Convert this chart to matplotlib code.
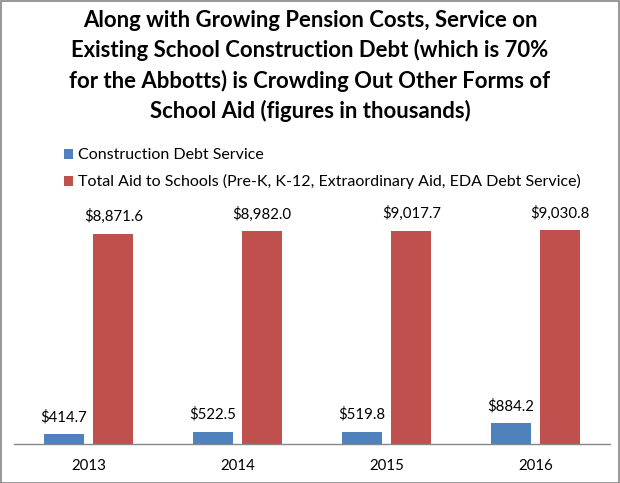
import matplotlib
matplotlib.use("Agg")
import matplotlib.pyplot as plt
from matplotlib.patches import Patch, Rectangle
import numpy as np

years = ["2013", "2014", "2015", "2016"]
debt_service = [414.7, 522.5, 519.8, 884.2]
total_aid = [8871.6, 8982.0, 9017.7, 9030.8]
series_names = ["Construction Debt Service",
                "Total Aid to Schools (Pre-K, K-12, Extraordinary Aid, EDA Debt Service)"]

BLUE = "#4F81BD"
RED = "#C0504D"
FONT = "Lato"

fig = plt.figure(figsize=(6.2, 4.83), dpi=100)
fig.patch.set_facecolor("white")
W, H = 620, 483

ax = fig.add_axes([14 / W, (H - 444) / H, 596 / W, 236.7 / H])
x = np.arange(len(years))
bw = 0.265
off = 0.166
b1 = ax.bar(x - off, debt_service, bw, color=BLUE)
b2 = ax.bar(x + off, total_aid, bw, color=RED)
ax.set_xlim(-0.5, len(years) - 0.5)
ax.set_ylim(0, 10000)

for bars, vals in ((b1, debt_service), (b2, total_aid)):
    for r, v in zip(bars, vals):
        ax.annotate(f"${v:,.1f}", (r.get_x() + r.get_width() / 2, v),
                    xytext=(0, 7), textcoords="offset points", ha="center", va="bottom",
                    fontsize=10.8, family=FONT, color="#000000")

for s in ["top", "right", "left"]:
    ax.spines[s].set_visible(False)
ax.spines["bottom"].set_color("#868686")
ax.spines["bottom"].set_linewidth(1)
ax.set_yticks([])
ax.set_xticks(x)
ax.set_xticklabels(years, fontsize=10.8, family=FONT)
ax.tick_params(axis="x", length=0, pad=11)

title = ("Along with Growing Pension Costs, Service on\n"
         "Existing School Construction Debt (which is 70%\n"
         "for the Abbotts) is Crowding Out Other Forms of\n"
         "School Aid (figures in thousands)")
fig.text(0.5, 1 - 66 / H, title, ha="center", va="center", fontsize=15.9,
         fontweight="bold", family=FONT, linespacing=1.47)

handles = [Patch(facecolor=BLUE), Patch(facecolor=RED)]
leg = fig.legend(handles, series_names, loc="upper left",
                 bbox_to_anchor=(50 / W, 1 - 134 / H), frameon=False,
                 prop={"family": FONT, "size": 11.5}, handlelength=0.55,
                 handleheight=0.55, handletextpad=0.3, labelspacing=0.75)

fig.add_artist(Rectangle((0.5 / W, 0.5 / H), (W - 1.5) / W, (H - 1.5) / H,
                         transform=fig.transFigure, fill=False,
                         edgecolor="#868686", linewidth=1.2))

fig.savefig("out.png", dpi=100)
